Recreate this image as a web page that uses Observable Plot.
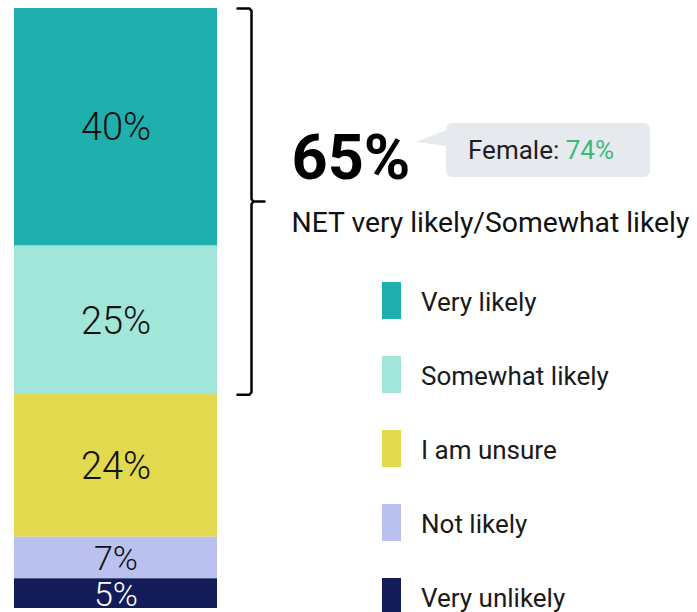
<!DOCTYPE html>
<html>
<head>
<meta charset="utf-8">
<script src="https://cdn.jsdelivr.net/npm/d3@7"></script>
<script src="https://cdn.jsdelivr.net/npm/@observablehq/plot@0.6"></script>
<style>
  html, body { margin: 0; padding: 0; background: #fff; }
  #wrap { position: relative; width: 697px; height: 612px; overflow: hidden; font-family: Roboto, "Noto Sans", sans-serif; }
  #wrap svg { display: block; }
  .bubble { position: absolute; left: 446px; top: 123px; width: 204px; height: 54px; background: #e6e9ee; border-radius: 6px; box-sizing: border-box; padding-left: 22px; font-size: 26px; line-height: 54px; color: #1e1e1e; white-space: nowrap; }
  .bubble .g { color: #3dba7a; }
  .tip { position: absolute; left: 416px; top: 130px; width: 31px; height: 16px; background: #e6e9ee; clip-path: polygon(0 12px, 31px 0, 31px 16px); }
  .leg { position: absolute; left: 382px; height: 37px; white-space: nowrap; }
  .leg .sw { position: absolute; left: 0; top: 0; width: 19px; height: 37px; }
  .leg .lb { position: absolute; left: 39px; top: 0; font-size: 26px; line-height: 41px; color: #1a1a1a; }
</style>
</head>
<body>
<div id="wrap"></div>
<script>
// ---- data ----
const categories = ["Very likely", "Somewhat likely", "I am unsure", "Not likely", "Very unlikely"];
const values = [40, 25, 24, 7, 5];
const colors = ["#1fb0ae", "#a1e6d9", "#e2d94f", "#bbc1ef", "#131b59"];
const netValue = 65;
const netLabel = "NET very likely/Somewhat likely";
const femaleLabel = "Female:";
const femaleValue = 74;

// ---- derived ----
const data = categories.map((c, i) => ({category: c, value: values[i]}));
const total = d3.sum(values);
const netLow = total - (values[0] + values[1]);
const netMid = (total + netLow) / 2;
const stackOrder = categories.slice().reverse();

const bracket = [
  {part: "a", x: 237, y: total},
  {part: "a", x: 249, y: total},
  {part: "a", x: 251, y: total - 0.4},
  {part: "a", x: 251, y: netMid + 0.4},
  {part: "a", x: 253, y: netMid},
  {part: "a", x: 264, y: netMid},
  {part: "b", x: 253, y: netMid},
  {part: "b", x: 251, y: netMid - 0.4},
  {part: "b", x: 251, y: netLow + 0.4},
  {part: "b", x: 249, y: netLow},
  {part: "b", x: 237, y: netLow}
];

const chart = Plot.plot({
  width: 697,
  height: 612,
  marginLeft: 0, marginRight: 0, marginTop: 8, marginBottom: 4,
  style: {fontFamily: "Roboto, 'Noto Sans', sans-serif", background: "transparent", overflow: "visible"},
  x: {type: "linear", domain: [0, 697], axis: null},
  y: {domain: [0, total], axis: null},
  color: {domain: categories, range: colors},
  marks: [
    Plot.rectY(data, Plot.stackY({x1: 14, x2: 217, y: "value", fill: "category", z: "category", order: stackOrder})),
    Plot.text(data, Plot.stackY({
      x: 115.5, y: "value", z: "category", order: stackOrder,
      text: d => d.value + "%",
      fill: d => d.category === "Very unlikely" ? "#ffffff" : "#111111",
      fontSize: d => d.value < 10 ? 34 : 38,
      fontWeight: 300, dy: 1
    })),
    Plot.line(bracket, {x: "x", y: "y", z: "part", stroke: "#000", strokeWidth: 2.5, strokeLinejoin: "round"}),
    Plot.text([netValue], {x: 291, y: netMid, text: d => d + "%", textAnchor: "start", lineAnchor: "bottom",
      dy: -23, fontSize: 63, fontWeight: 700, fill: "#000"}),
    Plot.text([netLabel], {x: 291, y: netMid, text: d => d, textAnchor: "start", lineAnchor: "bottom",
      dy: 30, fontSize: 28.3, fill: "#111"})
  ]
});

const wrap = document.getElementById("wrap");
wrap.appendChild(chart);

// callout bubble
const tip = document.createElement("div");
tip.className = "tip";
wrap.appendChild(tip);
const bubble = document.createElement("div");
bubble.className = "bubble";
bubble.innerHTML = femaleLabel + " <span class='g'>" + femaleValue + "%</span>";
wrap.appendChild(bubble);

// legend
categories.forEach((c, i) => {
  const row = document.createElement("div");
  row.className = "leg";
  row.style.top = (282 + i * 74) + "px";
  const sw = document.createElement("div");
  sw.className = "sw";
  sw.style.background = colors[i];
  const lb = document.createElement("div");
  lb.className = "lb";
  lb.textContent = c;
  row.appendChild(sw);
  row.appendChild(lb);
  wrap.appendChild(row);
});
</script>
</body>
</html>
